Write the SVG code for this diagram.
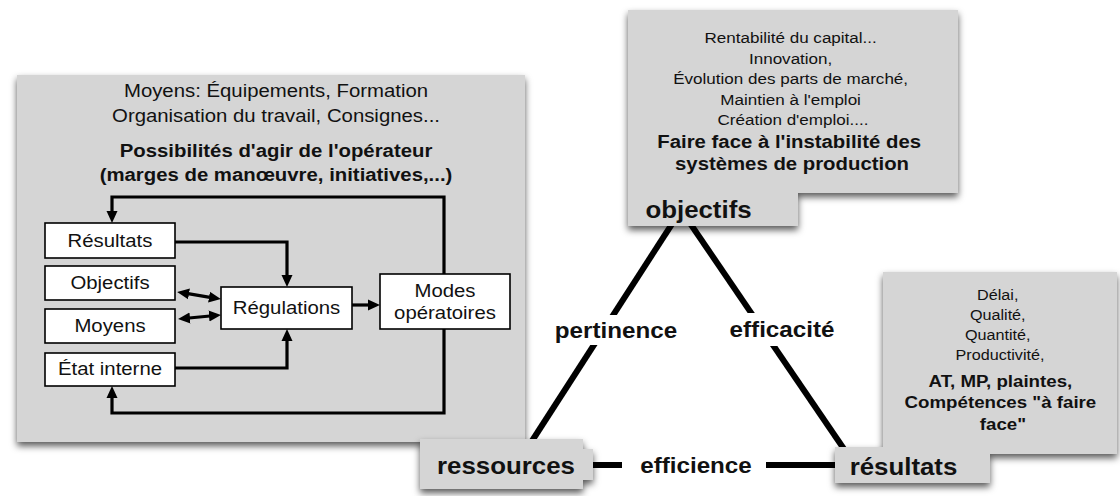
<svg xmlns="http://www.w3.org/2000/svg" width="1120" height="496" viewBox="0 0 1120 496">
<defs>
<style>
.panel{fill:#d5d5d5;filter:url(#sh)}
.t{font-family:"Liberation Sans",Arial,Helvetica,sans-serif;fill:#111;text-anchor:middle}
.b{font-weight:bold}
.f18{font-size:18.5px}
.f15{font-size:15.5px}
.f14{font-size:14.7px}
.f17{font-size:17px}
.f22{font-size:22px}
.f23{font-size:23.5px}
.box{fill:#fff;stroke:#000;stroke-width:1.6}
.c{fill:none;stroke:#000;stroke-width:3.2}
.tri{fill:none;stroke:#000;stroke-width:6}
.bg{fill:#fff}
</style>
<filter id="sh" x="-10%" y="-10%" width="120%" height="130%">
<feDropShadow dx="0" dy="4" stdDeviation="3.5" flood-color="#000" flood-opacity="0.65"/>
</filter>
<marker id="ah" markerUnits="userSpaceOnUse" markerWidth="12" markerHeight="12" viewBox="0 0 12 12" refX="1" refY="6" orient="auto-start-reverse">
<path d="M0,0.5 L12,6 L0,11.5 z" fill="#000"/>
</marker>
</defs>

<g id="left-panel">
<rect class="panel" x="17" y="75" width="508" height="367"/>
<text class="t f18" transform="translate(276,97) scale(1.1,1)">Moyens: Équipements, Formation</text>
<text class="t f18" transform="translate(276,122) scale(1.1,1)">Organisation du travail, Consignes...</text>
<text class="t f18 b" transform="translate(276,157) scale(1.1,1)">Possibilités d'agir de l'opérateur</text>
<text class="t f18 b" transform="translate(276,181) scale(1.1,1)">(marges de manœuvre, initiatives,...)</text>
</g>

<g id="triangle">
<line class="tri" x1="681" y1="210" x2="530" y2="444"/>
<line class="tri" x1="681" y1="210" x2="846" y2="452"/>
<line class="tri" x1="584" y1="465" x2="622" y2="465" stroke-width="5.5"/>
<line class="tri" x1="766" y1="465" x2="840" y2="465" stroke-width="5.5"/>
<rect class="bg" x="535" y="315" width="150" height="30"/>
<rect class="bg" x="726" y="313" width="114" height="33"/>
</g>

<g id="label-pertinence"><text class="t f22 b" transform="translate(616,338) scale(1.1,1)">pertinence</text></g>
<g id="label-efficacite"><text class="t f22 b" transform="translate(782,337) scale(1.1,1)">efficacité</text></g>
<g id="label-efficience"><text class="t f22 b" transform="translate(696,473) scale(1.1,1)">efficience</text></g>

<g id="objectifs">
<path class="panel" d="M628,10 H958 V193 H798 V226 H628 Z"/>
<text class="t f15" transform="translate(793,0) scale(1.1,1)">
<tspan x="0" y="43">Rentabilité du capital...</tspan>
<tspan x="0" y="64">Innovation,</tspan>
<tspan x="0" y="84.5">Évolution des parts de marché,</tspan>
<tspan x="0" y="105">Maintien à l'emploi</tspan>
<tspan x="0" y="125.5">Création d'emploi....</tspan>
</text>
<text class="t f18 b" transform="translate(792,0) scale(1.1,1)">
<tspan x="0" y="148">Faire face à l'instabilité des</tspan>
<tspan x="0" y="170">systèmes de production</tspan>
</text>
<text class="t f23 b" transform="translate(698.5,218) scale(1.1,1)">objectifs</text>
</g>

<g id="resultats">
<path class="panel" d="M883,272 H1117 V454 H990 V483 H835 V447 H883 Z"/>
<text class="t f14" transform="translate(1000,0) scale(1.1,1)">
<tspan x="0" y="300">Délai,</tspan>
<tspan x="0" y="320">Qualité,</tspan>
<tspan x="0" y="340">Quantité,</tspan>
<tspan x="0" y="360">Productivité,</tspan>
</text>
<text class="t f17 b" transform="translate(1003,0) scale(1.1,1)">
<tspan x="0" y="387">AT, MP, plaintes,</tspan>
<tspan x="0" y="408.5">Compétences "à faire</tspan>
<tspan x="0" y="430">face"</tspan>
</text>
<text class="t f23 b" transform="translate(903.5,475) scale(1.1,1)">résultats</text>
</g>

<g id="ressources">
<path class="panel" d="M420,439 H583 V449 H593 V480 H583 V489 H420 Z"/>
<text class="t f23 b" transform="translate(506,474) scale(1.1,1)">ressources</text>
</g>

<g id="connectors">
<path class="c" d="M444,274 V197 H112 V212" marker-end="url(#ah)"/>
<path class="c" d="M444,329 V413 H112 V397" marker-end="url(#ah)"/>
<path class="c" d="M175,242 H287 V276" marker-end="url(#ah)"/>
<path class="c" d="M175,368 H287 V340" marker-end="url(#ah)"/>
<path class="c" d="M352,305 H369" marker-end="url(#ah)"/>
<path class="c" d="M188,293.7 L210,297.3" marker-start="url(#ah)" marker-end="url(#ah)"/>
<path class="c" d="M189,318 L210,316" marker-start="url(#ah)" marker-end="url(#ah)"/>
</g>

<g id="box-resultats"><rect class="box" x="45" y="223" width="130" height="35"/><text class="t f18" transform="translate(110,247) scale(1.1,1)">Résultats</text></g>
<g id="box-objectifs"><rect class="box" x="45" y="266" width="130" height="34"/><text class="t f18" transform="translate(110,289) scale(1.1,1)">Objectifs</text></g>
<g id="box-moyens"><rect class="box" x="45" y="309" width="130" height="34"/><text class="t f18" transform="translate(110,332) scale(1.1,1)">Moyens</text></g>
<g id="box-etat"><rect class="box" x="45" y="353" width="130" height="33"/><text class="t f18" transform="translate(110,375) scale(1.1,1)">État interne</text></g>
<g id="box-regulations"><rect class="box" x="221" y="287" width="131" height="42"/><text class="t f18" transform="translate(286.5,314) scale(1.1,1)">Régulations</text></g>
<g id="box-modes"><rect class="box" x="380" y="274" width="130" height="55"/><text class="t f18" transform="translate(445,0) scale(1.1,1)"><tspan x="0" y="297">Modes</tspan><tspan x="0" y="319">opératoires</tspan></text></g>
</svg>
